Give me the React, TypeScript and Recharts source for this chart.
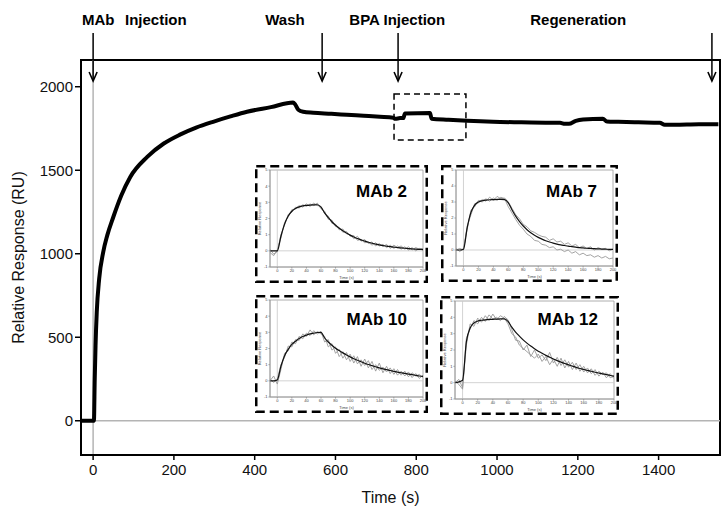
import React from 'react'
import {
  LineChart,
  Line,
  XAxis,
  YAxis,
  ReferenceLine,
  ReferenceArea,
  ReferenceDot,
} from 'recharts'

const FONT = '"Liberation Sans", Arial, Helvetica, sans-serif'

// main sensorgram (time in s, response in RU)
const MAIN_T = [
  -30, 2, 4, 6, 9, 15, 25, 35, 50, 70, 92, 134, 175, 215, 255, 297, 340, 381, 440, 495,
  500, 508, 520, 545, 590, 628, 670, 710, 743, 748, 760, 768, 772, 834, 838, 880, 926,
  990, 1060, 1120, 1156, 1168, 1178, 1195, 1213, 1262, 1272, 1300, 1350, 1403, 1415,
  1440, 1500, 1548,
]
const MAIN_RU = [
  0, 0, 250, 450, 650, 850, 1010, 1110, 1220, 1350, 1460, 1580, 1660, 1713, 1755, 1790,
  1822, 1850, 1878, 1905, 1895, 1862, 1850, 1844, 1838, 1832, 1826, 1820, 1814, 1808,
  1812, 1812, 1840, 1842, 1808, 1802, 1796, 1790, 1787, 1785, 1784, 1778, 1778, 1796,
  1804, 1808, 1792, 1790, 1787, 1784, 1772, 1772, 1775, 1775,
]

const X_TICKS = [0, 200, 400, 600, 800, 1000, 1200, 1400]
const Y_TICKS = [0, 500, 1000, 1500, 2000]

const ARROWS = [0, 567, 755, 1532]
const EVENT_LABELS = [
  { text: 'MAb', t: -27.5, anchor: 'start' },
  { text: 'Injection', t: 79, anchor: 'start' },
  { text: 'Wash', t: 475, anchor: 'middle' },
  { text: 'BPA Injection', t: 753, anchor: 'middle' },
  { text: 'Regeneration', t: 1201, anchor: 'middle' },
]

// inset sensorgrams
const MINI_T = [
  -10, -5, 0, 5, 10, 15, 20, 25, 30, 35, 40, 45, 50, 55, 60, 65, 70, 75, 80, 85, 90, 95,
  100, 105, 110, 115, 120, 125, 130, 135, 140, 145, 150, 155, 160, 165, 170, 175, 180,
  185, 190, 195, 200,
]
const MINI_X_TICKS = [0, 20, 40, 60, 80, 100, 120, 140, 160, 180, 200]
const MINI_Y_TICKS = [-1, 0, 1, 2, 3, 4, 5]

const MAB2_FIT = [0, 0, 0, 0.9, 1.65, 2.15, 2.45, 2.62, 2.72, 2.78, 2.81, 2.83, 2.84, 2.85, 2.7, 2.35, 2.05, 1.8, 1.58, 1.4, 1.24, 1.1, 0.97, 0.86, 0.76, 0.68, 0.6, 0.53, 0.47, 0.42, 0.37, 0.33, 0.29, 0.26, 0.23, 0.2, 0.18, 0.16, 0.14, 0.12, 0.1, 0.09, 0.08]
const MAB2_A = [-0.1, -0.3, 0.05, 0.8, 1.75, 2.1, 2.55, 2.6, 2.8, 2.7, 2.9, 2.75, 2.95, 2.8, 2.75, 2.3, 2.15, 1.7, 1.65, 1.3, 1.35, 1.05, 1.0, 0.75, 0.9, 0.6, 0.7, 0.45, 0.55, 0.3, 0.45, 0.25, 0.4, 0.15, 0.35, 0.2, 0.3, 0.1, 0.25, 0.05, 0.2, 0.1, 0.15]
const MAB2_B = [0.1, -0.2, -0.05, 1.0, 1.6, 2.25, 2.4, 2.7, 2.65, 2.85, 2.75, 2.9, 2.8, 2.95, 2.6, 2.45, 1.95, 1.9, 1.5, 1.45, 1.15, 1.2, 0.9, 0.95, 0.65, 0.7, 0.5, 0.55, 0.35, 0.5, 0.3, 0.4, 0.2, 0.35, 0.15, 0.3, 0.1, 0.25, 0.05, 0.2, 0.0, 0.15, 0.05]

const MAB7_FIT = [0, 0, 0.05, 1.4, 2.35, 2.8, 3.0, 3.08, 3.12, 3.14, 3.15, 3.16, 3.16, 3.15, 2.95, 2.5, 2.1, 1.78, 1.5, 1.27, 1.08, 0.92, 0.79, 0.68, 0.58, 0.5, 0.43, 0.37, 0.32, 0.28, 0.24, 0.21, 0.18, 0.15, 0.13, 0.11, 0.1, 0.08, 0.07, 0.06, 0.05, 0.04, 0.04]
const MAB7_A = [0.1, -0.1, 0.1, 1.3, 2.5, 2.7, 3.1, 3.0, 3.2, 3.05, 3.25, 3.1, 3.3, 3.2, 2.7, 2.3, 1.9, 1.55, 1.3, 1.0, 0.85, 0.6, 0.55, 0.35, 0.3, 0.15, 0.2, 0.0, 0.05, -0.1, 0.0, -0.2, -0.1, -0.3, -0.2, -0.35, -0.3, -0.45, -0.35, -0.5, -0.4, -0.55, -0.5]
const MAB7_B = [0.0, 0.1, 0.0, 1.5, 2.2, 2.9, 2.95, 3.15, 3.05, 3.3, 3.1, 3.35, 3.2, 3.25, 3.0, 2.6, 2.2, 1.95, 1.6, 1.45, 1.2, 1.1, 0.95, 0.85, 0.8, 0.6, 0.7, 0.5, 0.55, 0.35, 0.45, 0.25, 0.35, 0.15, 0.25, 0.1, 0.2, 0.0, 0.15, 0.05, 0.1, -0.05, 0.05]

const MAB10_FIT = [0, 0, 0.05, 0.9, 1.55, 1.95, 2.25, 2.45, 2.62, 2.74, 2.83, 2.9, 2.95, 2.99, 3.0, 2.65, 2.4, 2.2, 2.02, 1.87, 1.73, 1.6, 1.48, 1.37, 1.27, 1.18, 1.09, 1.01, 0.94, 0.87, 0.8, 0.74, 0.69, 0.64, 0.59, 0.54, 0.5, 0.46, 0.42, 0.38, 0.34, 0.3, 0.27]
const MAB10_A = [0.0, 0.3, -0.2, 0.7, 1.7, 1.85, 2.4, 2.3, 2.75, 2.6, 2.95, 2.8, 3.1, 2.9, 3.05, 2.4, 2.55, 1.9, 2.1, 1.5, 1.8, 1.3, 1.65, 1.1, 1.5, 0.9, 1.35, 0.8, 1.2, 0.6, 1.1, 0.5, 0.9, 0.45, 0.75, 0.35, 0.6, 0.3, 0.55, 0.2, 0.45, 0.15, 0.35]
const MAB10_B = [0.1, -0.1, 0.1, 1.0, 1.45, 2.15, 2.1, 2.55, 2.5, 2.9, 2.75, 3.15, 2.85, 3.05, 2.9, 2.75, 2.1, 2.3, 1.7, 1.95, 1.4, 1.75, 1.2, 1.55, 1.05, 1.3, 0.95, 1.25, 0.7, 1.0, 0.65, 0.85, 0.55, 0.8, 0.4, 0.7, 0.35, 0.6, 0.25, 0.5, 0.3, 0.4, 0.2]

const MAB12_FIT = [0, 0.05, 0.15, 2.5, 3.35, 3.65, 3.77, 3.82, 3.85, 3.87, 3.88, 3.89, 3.9, 3.9, 3.75, 3.4, 3.1, 2.85, 2.62, 2.42, 2.24, 2.08, 1.93, 1.8, 1.67, 1.56, 1.45, 1.35, 1.26, 1.17, 1.09, 1.01, 0.94, 0.87, 0.81, 0.75, 0.7, 0.64, 0.59, 0.54, 0.49, 0.44, 0.4]
const MAB12_A = [0.0, 0.2, -0.3, 2.3, 3.6, 3.45, 3.95, 3.7, 4.1, 3.8, 4.2, 3.85, 4.1, 3.95, 3.6, 3.0, 2.8, 2.3, 2.1, 1.9, 1.7, 1.5, 1.75, 1.3, 1.6, 1.1, 1.45, 1.0, 1.5, 0.9, 1.3, 0.8, 1.2, 0.7, 1.0, 0.6, 0.85, 0.45, 0.7, 0.5, 0.6, 0.3, 0.4]
const MAB12_B = [0.1, -0.1, -0.4, 2.7, 3.3, 3.8, 3.6, 4.0, 3.75, 4.15, 3.9, 4.0, 3.8, 4.05, 3.85, 3.25, 2.6, 2.55, 2.0, 2.3, 1.6, 2.0, 1.5, 1.7, 1.35, 1.85, 1.2, 1.55, 1.05, 1.4, 0.95, 1.25, 0.8, 1.1, 0.65, 0.9, 0.55, 0.8, 0.4, 0.65, 0.3, 0.55, 0.25]

const mainData = MAIN_T.map((t, i) => ({ t, ru: MAIN_RU[i] }))

const Arrow = (p: any) => {
  const { x1, y1, x2, y2 } = p
  return (
    <g>
      <line x1={x1} y1={y1} x2={x2} y2={y2} stroke="#000" strokeWidth={1.5} />
      <polyline
        points={`${x2 - 4},${y2 - 9} ${x2},${y2} ${x2 + 4},${y2 - 9}`}
        fill="none"
        stroke="#000"
        strokeWidth={1.6}
      />
    </g>
  )
}

function Inset({
  left, top, w, h, name, nameY, fit, a, b,
}: {
  left: number; top: number; w: number; h: number; name: string; nameY: number
  fit: number[]; a: number[]; b: number[]
}) {
  const data = MINI_T.map((t, i) => ({ t, fit: fit[i], a: a[i], b: b[i] }))
  const tiny = { fontSize: 4, fill: '#444', fontFamily: FONT }
  return (
    <div style={{ position: 'absolute', left, top, width: w, height: h }}>
      <svg width={w} height={h} style={{ position: 'absolute', left: 0, top: 0 }}>
        <rect
          x={1.25} y={1.25} width={w - 2.5} height={h - 2.5}
          fill="#fff" stroke="#000" strokeWidth={2.5} strokeDasharray="9 5"
        />
      </svg>
      <div style={{ position: 'absolute', left: 0, top: 0 }}>
        <LineChart width={w} height={h} data={data} margin={{ top: 5, right: 5, left: 0, bottom: 0 }}>
          <XAxis
            type="number" dataKey="t" domain={[-10, 200]} ticks={MINI_X_TICKS}
            allowDataOverflow height={16} tickSize={1.5} tickMargin={1}
            tick={tiny} axisLine={{ stroke: '#999', strokeWidth: 0.8 }} tickLine={{ stroke: '#999' }}
            label={{ value: 'Time (s)', position: 'insideBottom', offset: 4, ...tiny }}
          />
          <YAxis
            type="number" domain={[-1, 5]} ticks={MINI_Y_TICKS} allowDataOverflow
            width={15} tickSize={1.5} tickMargin={1}
            tick={tiny} axisLine={{ stroke: '#999', strokeWidth: 0.8 }} tickLine={{ stroke: '#999' }}
            label={{ value: 'Relative Response', angle: -90, position: 'insideLeft', offset: 5, style: { textAnchor: 'middle' }, ...tiny }}
          />
          <ReferenceArea x1={-10} x2={200} y1={-1} y2={5} fill="none" stroke="#999" strokeWidth={0.8} />
          <ReferenceLine x={0} stroke="#c8c8c8" strokeWidth={0.8} />
          <ReferenceLine y={0} stroke="#c8c8c8" strokeWidth={0.8} />
          <Line dataKey="a" stroke="#999" strokeWidth={0.9} dot={false} isAnimationActive={false} />
          <Line dataKey="b" stroke="#999" strokeWidth={0.9} dot={false} isAnimationActive={false} />
          <Line dataKey="fit" type="monotone" stroke="#111" strokeWidth={1.2} dot={false} isAnimationActive={false} />
        </LineChart>
      </div>
      <svg width={w} height={h} style={{ position: 'absolute', left: 0, top: 0, pointerEvents: 'none' }}>
        <text x={w - 21} y={nameY} textAnchor="end" fontFamily={FONT} fontWeight="bold" fontSize={17} fill="#000">
          {name}
        </text>
      </svg>
    </div>
  )
}

export default function App() {
  return (
    <div style={{ position: 'absolute', left: 0, top: 0, width: 721, height: 507, background: '#fff' }}>
      <LineChart width={721} height={507} data={mainData} margin={{ top: 60, right: 1, left: 0, bottom: 0 }}>
        <XAxis
          type="number" dataKey="t" domain={[-30, 1552]} ticks={X_TICKS} allowDataOverflow
          height={52} tickSize={5} tickMargin={4}
          tick={{ fontSize: 15, fill: '#111', fontFamily: FONT }}
          axisLine={{ stroke: '#000', strokeWidth: 2 }} tickLine={{ stroke: '#000', strokeWidth: 1.5 }}
          label={{ value: 'Time (s)', position: 'insideBottom', offset: 4, dx: -10, fontSize: 16, fill: '#111', fontFamily: FONT }}
        />
        <YAxis
          type="number" domain={[-205, 2160]} ticks={Y_TICKS} allowDataOverflow
          width={81} tickSize={6} tickMargin={2}
          tick={{ fontSize: 15, fill: '#111', fontFamily: FONT }}
          axisLine={{ stroke: '#000', strokeWidth: 2 }} tickLine={{ stroke: '#000', strokeWidth: 1.5 }}
          label={{ value: 'Relative Response (RU)', angle: -90, position: 'insideLeft', offset: 18, style: { textAnchor: 'middle' }, fontSize: 16, fill: '#111', fontFamily: FONT }}
        />
        <ReferenceArea x1={-30} x2={1552} y1={-205} y2={2160} fill="none" stroke="#000" strokeWidth={2} />
        <ReferenceLine x={0} stroke="#b4b4b4" strokeWidth={1.5} />
        <ReferenceLine y={0} stroke="#b4b4b4" strokeWidth={1.5} />
        <ReferenceArea
          x1={745} x2={923} y1={1681} y2={1956}
          fill="none" stroke="#000" strokeWidth={1.5} strokeDasharray="6 4"
        />
        <Line dataKey="ru" type="monotone" stroke="#000" strokeWidth={4} dot={false} isAnimationActive={false} />
        {ARROWS.map((t) => (
          <ReferenceLine
            key={t}
            segment={[{ x: t, y: 2322 }, { x: t, y: 2034 }]}
            ifOverflow="visible"
            shape={Arrow}
          />
        ))}
        {EVENT_LABELS.map((l) => (
          <ReferenceDot
            key={l.text}
            x={l.t}
            y={2370}
            ifOverflow="visible"
            shape={(p: any) => (
              <text x={p.cx} y={p.cy} textAnchor={l.anchor} fontFamily={FONT} fontWeight="bold" fontSize={15} fill="#000">
                {l.text}
              </text>
            )}
          />
        ))}
      </LineChart>
      <Inset left={255} top={165} w={173} h={118} name="MAb 2" nameY={32} fit={MAB2_FIT} a={MAB2_A} b={MAB2_B} />
      <Inset left={441} top={165} w={177} h={117} name="MAb 7" nameY={32} fit={MAB7_FIT} a={MAB7_A} b={MAB7_B} />
      <Inset left={255} top={295} w={173} h={118} name="MAb 10" nameY={30} fit={MAB10_FIT} a={MAB10_A} b={MAB10_B} />
      <Inset left={440} top={296} w={179} h={119} name="MAb 12" nameY={29} fit={MAB12_FIT} a={MAB12_A} b={MAB12_B} />
    </div>
  )
}
